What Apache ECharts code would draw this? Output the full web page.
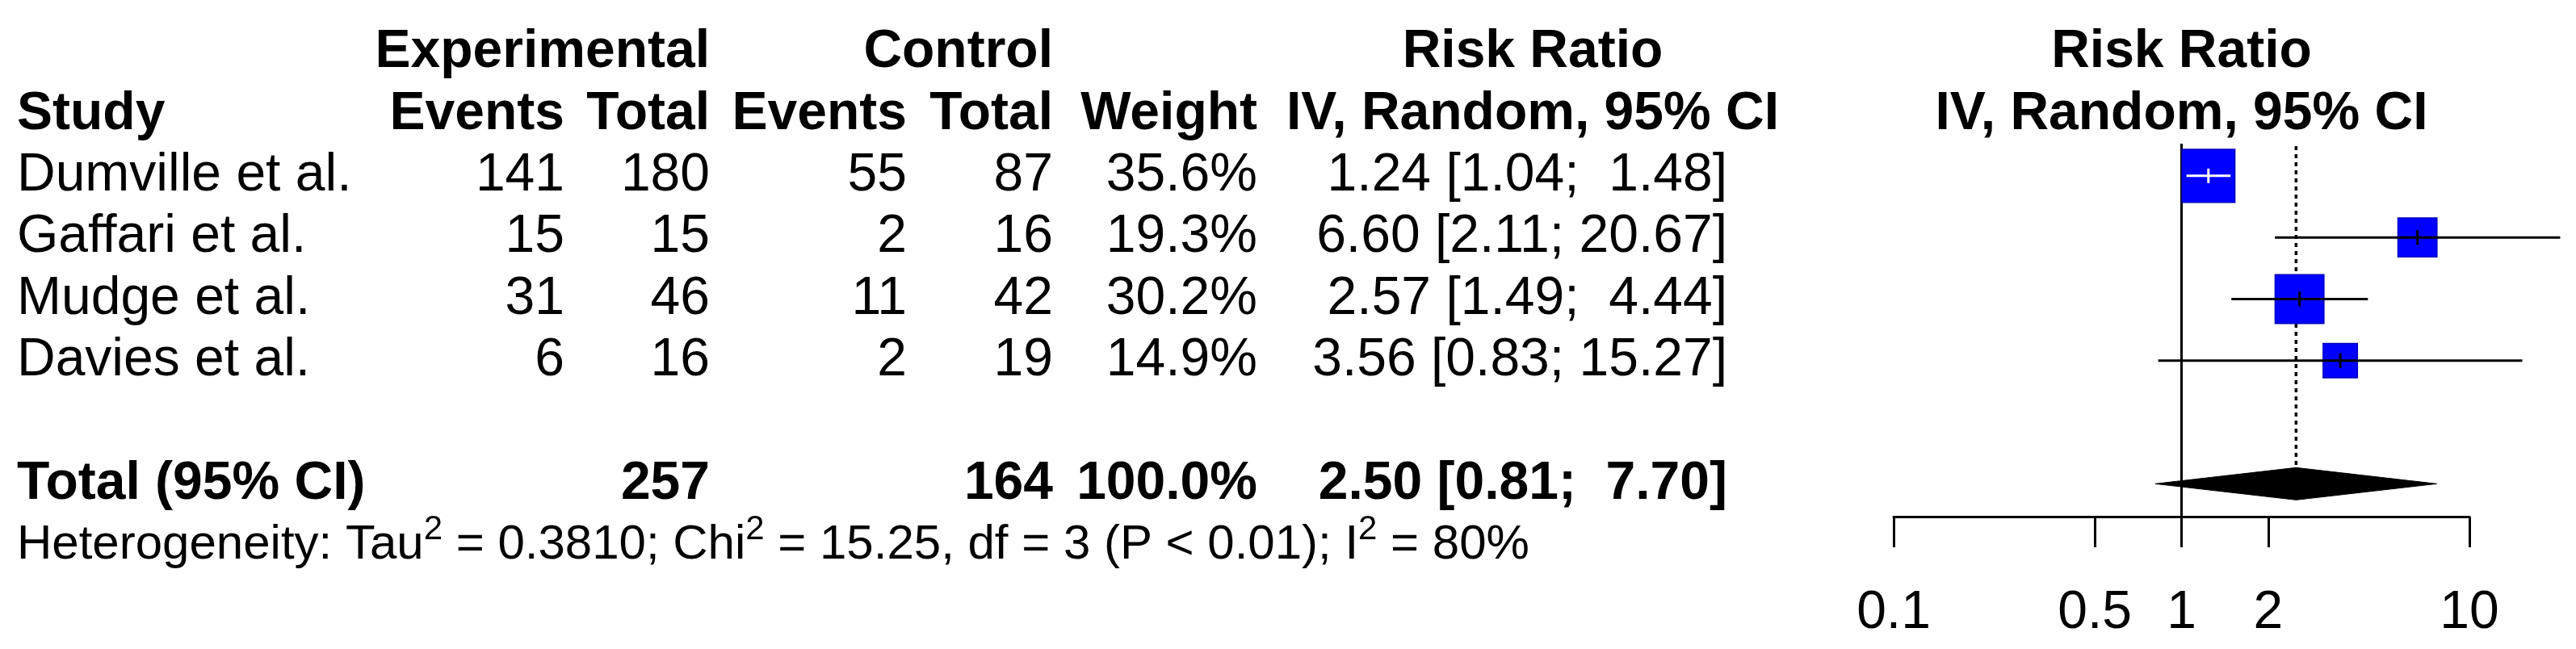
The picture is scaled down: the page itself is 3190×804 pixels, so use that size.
<!DOCTYPE html>
<html><head><meta charset="utf-8">
<script src="https://cdn.jsdelivr.net/npm/echarts@6/dist/echarts.min.js"></script>
<style>html,body{margin:0;padding:0;background:#fff}#c{width:3190px;height:804px}</style>
</head><body><div id="c"></div>
<script>
// ---------- data ----------
const studies    = ['Dumville et al.', 'Gaffari et al.', 'Mudge et al.', 'Davies et al.'];
const expEvents  = [141, 15, 31, 6];
const expTotal   = [180, 15, 46, 16];
const ctrlEvents = [55, 2, 11, 2];
const ctrlTotal  = [87, 16, 42, 19];
const weights    = [35.6, 19.3, 30.2, 14.9];
const riskRatio  = [1.24, 6.60, 2.57, 3.56];
const ciLower    = [1.04, 2.11, 1.49, 0.83];
const ciUpper    = [1.48, 20.67, 4.44, 15.27];
const pooledRR    = 2.50;
const pooledLower = 0.81;
const pooledUpper = 7.70;
const totalExp    = 257;
const totalCtrl   = 164;
const totalWeight = 100.0;
const hetTau2 = '0.3810';
const hetChi2 = '15.25';
const hetDf   = 3;
const hetP    = '< 0.01';
const hetI2   = '80%';
const xTicks  = [0.1, 0.5, 1, 2, 10];

// ---------- layout / style ----------
const FONT = 'Liberation Sans, Arial, Helvetica, sans-serif';
const FS = 66, FS_HET = 60, FS_SUP = 42;
const COLS = {
  study:  {x: 21,   align: 'left'},
  expE:   {x: 699,  align: 'right'},
  expT:   {x: 879,  align: 'right'},
  ctrlE:  {x: 1123, align: 'right'},
  ctrlT:  {x: 1304, align: 'right'},
  weight: {x: 1557, align: 'right'},
  ci:     {x: 2139, align: 'right'},
  ciHead: {x: 1898, align: 'center'}
};
const SQ_K = 11;         // square side per sqrt(weight)
const DIAMOND_H = 20;    // half height of pooled diamond (px)
const TICK_H = 9;        // half height of estimate tick

const studyRows = studies.map((s, i) => i + 2);
const TOTAL_ROW = 7, HET_ROW = 8;

function fmtCI(est, lo, up) {
  return est.toFixed(2) + ' [' + lo.toFixed(2) + '; ' + up.toFixed(2).padStart(5, ' ') + ']';
}
function txt(col, y, s, bold, xOverride) {
  const c = COLS[col];
  return {
    type: 'text', x: xOverride != null ? xOverride : c.x, y: y,
    style: {text: s, fontSize: FS, fontFamily: FONT, fontWeight: bold ? 'bold' : 'normal',
            fill: '#000', align: c.align, verticalAlign: 'middle'}
  };
}

// table rows as data (row index, kind, study index)
const tableData = [
  [0, 'head1', -1], [1, 'head2', -1],
  ...studies.map((s, i) => [studyRows[i], 'study', i]),
  [TOTAL_ROW, 'total', -1], [HET_ROW, 'het', -1]
];

const chart = echarts.init(document.getElementById('c'), null, {renderer: 'canvas'});
chart.setOption({
  backgroundColor: '#fff',
  animation: false,
  grid: {left: 2345, top: 178, width: 713, height: 462, containLabel: false},
  xAxis: {
    type: 'log', logBase: 10, min: 0.1, max: 10,
    axisLine: {show: true, lineStyle: {color: '#000', width: 3}},
    axisTick: {show: true, customValues: xTicks, length: 38, inside: false, lineStyle: {color: '#000', width: 3}},
    axisLabel: {show: true, customValues: xTicks, margin: 87, fontSize: FS, fontFamily: FONT, color: '#000',
                formatter: v => String(+(+v).toPrecision(6))},
    splitLine: {show: false}, minorTick: {show: false}
  },
  yAxis: {type: 'value', inverse: true, min: 1.478, max: 7.533, show: false},
  series: [
    { // reference lines + pooled diamond
      type: 'custom', z: 1,
      data: [[pooledRR, TOTAL_ROW, pooledLower, pooledUpper]],
      renderItem: function (params, api) {
        const c = api.coord([api.value(0), api.value(1)]);
        const lo = api.coord([api.value(2), api.value(1)]);
        const hi = api.coord([api.value(3), api.value(1)]);
        const top1 = api.coord([1, 1.478]);
        const bot1 = api.coord([1, 7.533]);
        const topP = api.coord([api.value(0), 1.478]);
        return {type: 'group', children: [
          {type: 'line', shape: {x1: top1[0], y1: top1[1], x2: bot1[0], y2: bot1[1]},
           style: {stroke: '#000', lineWidth: 3}},
          {type: 'line', shape: {x1: topP[0], y1: topP[1] + 3, x2: c[0], y2: c[1] - DIAMOND_H},
           style: {stroke: '#000', lineWidth: 3.5, lineDash: [5, 5]}},
          {type: 'polygon', shape: {points: [[lo[0], c[1]], [c[0], c[1] - DIAMOND_H], [hi[0], c[1]], [c[0], c[1] + DIAMOND_H]]},
           style: {fill: '#000', stroke: '#000', lineWidth: 1}}
        ]};
      }
    },
    { // study squares and CIs
      type: 'custom', z: 2,
      data: riskRatio.map((v, i) => [v, studyRows[i], ciLower[i], ciUpper[i], weights[i]]),
      renderItem: function (params, api) {
        const c = api.coord([api.value(0), api.value(1)]);
        const lo = api.coord([api.value(2), api.value(1)]);
        const hi = api.coord([api.value(3), api.value(1)]);
        const side = SQ_K * Math.sqrt(api.value(4));
        const inside = lo[0] >= c[0] - side / 2 && hi[0] <= c[0] + side / 2;
        const col = inside ? '#fff' : '#000';
        return {type: 'group', children: [
          {type: 'rect', shape: {x: c[0] - side / 2, y: c[1] - side / 2, width: side, height: side},
           style: {fill: '#0000ff', stroke: '#0000c0', lineWidth: 1.5}},
          {type: 'line', shape: {x1: lo[0], y1: c[1], x2: hi[0], y2: c[1]}, style: {stroke: col, lineWidth: 3}},
          {type: 'line', shape: {x1: c[0], y1: c[1] - TICK_H, x2: c[0], y2: c[1] + TICK_H}, style: {stroke: col, lineWidth: 3}}
        ]};
      }
    },
    { // table text
      type: 'custom', z: 3,
      data: tableData.map(d => [1, d[0], d[2]]),
      renderItem: function (params, api) {
        const d = tableData[params.dataIndex];
        const y = api.coord([1, api.value(1)])[1];
        const plotCx = api.coord([1, api.value(1)])[0];
        const kind = d[1], i = d[2];
        let ch = [];
        if (kind === 'head1') {
          ch = [txt('expT', y, 'Experimental', true), txt('ctrlT', y, 'Control', true),
                txt('ciHead', y, 'Risk Ratio', true), txt('ciHead', y, 'Risk Ratio', true, plotCx)];
        } else if (kind === 'head2') {
          ch = [txt('study', y, 'Study', true), txt('expE', y, 'Events', true), txt('expT', y, 'Total', true),
                txt('ctrlE', y, 'Events', true), txt('ctrlT', y, 'Total', true), txt('weight', y, 'Weight', true),
                txt('ciHead', y, 'IV, Random, 95% CI', true), txt('ciHead', y, 'IV, Random, 95% CI', true, plotCx)];
        } else if (kind === 'study') {
          ch = [txt('study', y, studies[i]), txt('expE', y, String(expEvents[i])), txt('expT', y, String(expTotal[i])),
                txt('ctrlE', y, String(ctrlEvents[i])), txt('ctrlT', y, String(ctrlTotal[i])),
                txt('weight', y, weights[i].toFixed(1) + '%'),
                txt('ci', y, fmtCI(riskRatio[i], ciLower[i], ciUpper[i]))];
        } else if (kind === 'total') {
          ch = [txt('study', y, 'Total (95% CI)', true), txt('expT', y, String(totalExp), true),
                txt('ctrlT', y, String(totalCtrl), true), txt('weight', y, totalWeight.toFixed(1) + '%', true),
                txt('ci', y, fmtCI(pooledRR, pooledLower, pooledUpper), true)];
        } else if (kind === 'het') {
          const t = '{n|Heterogeneity: Tau}{s|2}{n| = ' + hetTau2 + '; Chi}{s|2}{n| = ' + hetChi2 +
                    ', df = ' + hetDf + ' (P ' + hetP + '); I}{s|2}{n| = ' + hetI2 + '}';
          ch = [{type: 'text', x: COLS.study.x, y: y, style: {
            text: t, fontFamily: FONT, fontSize: FS_HET, fill: '#000', align: 'left', verticalAlign: 'middle',
            rich: {
              n: {fontSize: FS_HET, fontFamily: FONT, fill: '#000', verticalAlign: 'middle'},
              s: {fontSize: FS_SUP, fontFamily: FONT, fill: '#000', verticalAlign: 'middle', padding: [0, 0, 38, 0]}
            }}}];
        }
        return {type: 'group', children: ch};
      }
    }
  ]
});
</script></body></html>
